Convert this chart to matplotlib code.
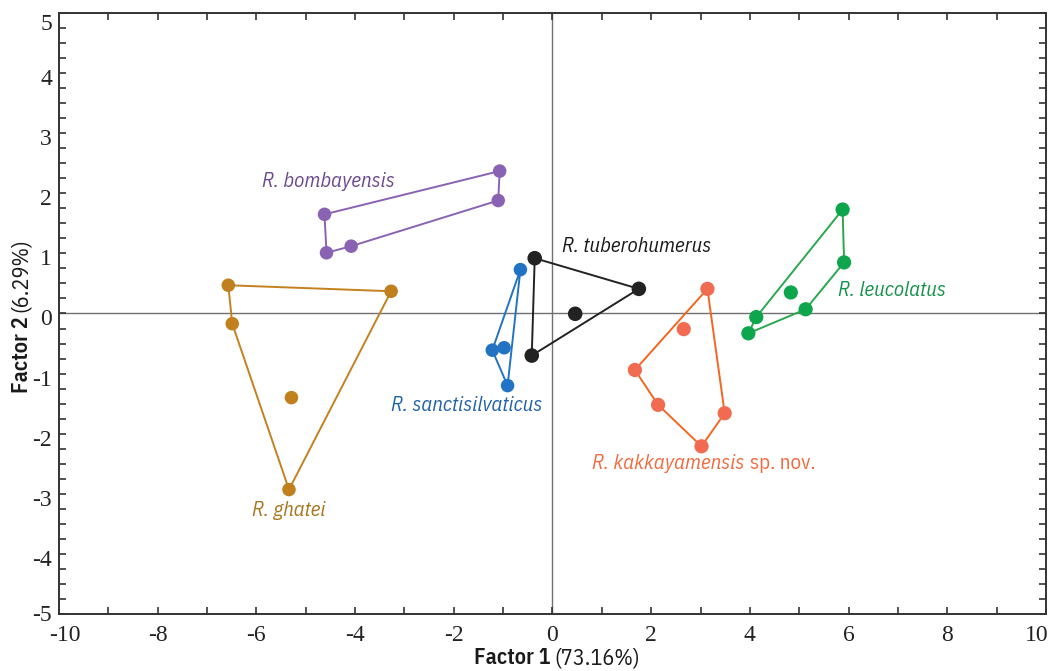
import numpy as np
import matplotlib
matplotlib.use("Agg")
import matplotlib.pyplot as plt
import matplotlib.transforms as mtransforms
from matplotlib.ticker import MultipleLocator

# ---- data ----
bomb_x = [-1.07, -1.10, -4.62, -4.08, -4.58]
bomb_y = [2.37, 1.88, 1.65, 1.12, 1.01]

ghat_x = [-6.57, -3.27, -6.49, -5.29, -5.34]
ghat_y = [0.47, 0.37, -0.17, -1.40, -2.93]

sanc_x = [-0.65, -1.22, -0.98, -0.91]
sanc_y = [0.73, -0.61, -0.57, -1.20]

tube_x = [-0.36, 1.75, 0.46, -0.42]
tube_y = [0.92, 0.41, -0.005, -0.70]

kakk_x = [3.14, 2.66, 1.67, 2.14, 3.49, 3.02]
kakk_y = [0.41, -0.26, -0.94, -1.52, -1.66, -2.21]

leuc_x = [5.88, 5.91, 4.83, 5.13, 4.13, 3.97]
leuc_y = [1.73, 0.85, 0.35, 0.07, -0.06, -0.33]

x_ticks = [-10, -8, -6, -4, -2, 0, 2, 4, 6, 8, 10]
y_ticks = [-5, -4, -3, -2, -1, 0, 1, 2, 3, 4, 5]

SANS = ["IBM Plex Sans Condensed", "DejaVu Sans"]
SERIF = ["Liberation Serif", "DejaVu Serif"]


def hull(xs, ys):
    pts = sorted(zip(xs, ys))

    def cross(o, a, b):
        return (a[0] - o[0]) * (b[1] - o[1]) - (a[1] - o[1]) * (b[0] - o[0])

    lower, upper = [], []
    for p in pts:
        while len(lower) >= 2 and cross(lower[-2], lower[-1], p) <= 0:
            lower.pop()
        lower.append(p)
    for p in reversed(pts):
        while len(upper) >= 2 and cross(upper[-2], upper[-1], p) <= 0:
            upper.pop()
        upper.append(p)
    h = lower[:-1] + upper[:-1]
    h.append(h[0])
    return [p[0] for p in h], [p[1] for p in h]


fig = plt.figure(figsize=(10.64, 6.71), dpi=100)
ax = fig.add_axes([0.0555, 0.085, 0.9275, 0.8956])
ax.set_xlim(-10, 10)
ax.set_ylim(-5, 5)

ax.axhline(0, color="#707070", lw=1.0, zorder=1)
ax.axvline(0, color="#707070", lw=1.0, zorder=1)

groups = [
    (bomb_x, bomb_y, "#8a62b3", "#8a62b3", 95),
    (ghat_x, ghat_y, "#c4811f", "#c0801e", 95),
    (sanc_x, sanc_y, "#2273c3", "#2273c3", 95),
    (tube_x, tube_y, "#222222", "#222222", 110),
    (kakk_x, kakk_y, "#f4661f", "#f06b50", 105),
    (leuc_x, leuc_y, "#2aa74f", "#0da64c", 105),
]
for xs, ys, lc, mc, ms in groups:
    hx, hy = hull(xs, ys)
    ax.plot(hx, hy, color=lc, lw=1.4, zorder=2)
    ax.scatter(xs, ys, s=ms, color=mc, zorder=3, edgecolors="none")

lab_font = dict(family=SANS, fontsize=15, style="italic")
ax.text(-5.88, 2.2, "R. bombayensis", color="#6b4a90", va="center", ha="left", **lab_font)
ax.text(0.2, 1.12, "R. tuberohumerus", color="#1a1a1a", va="center", ha="left", **lab_font)
ax.text(5.78, 0.38, "R. leucolatus", color="#16924a", va="center", ha="left", **lab_font)
ax.text(-1.74, -1.53, "R. sanctisilvaticus", color="#2262a8", va="center", ha="center", **lab_font)
ax.text(-5.35, -3.28, "R. ghatei", color="#a8741e", va="center", ha="center", **lab_font)
t = ax.text(0.81, -2.5, "R. kakkayamensis", color="#f06a3e", va="center", ha="left", **lab_font)
fig.canvas.draw()
renderer = fig.canvas.get_renderer()
bb = t.get_window_extent(renderer)
x_end = ax.transData.inverted().transform((bb.x1, bb.y0))[0]
ax.text(x_end + 0.1, -2.5, "sp. nov.", color="#f06a3e", va="center", ha="left",
        family=SANS, fontsize=15)

ax.set_xticks(x_ticks)
ax.set_yticks(y_ticks)
ax.set_xticklabels([str(v) for v in x_ticks])
ax.set_yticklabels([str(v) for v in y_ticks])
ax.xaxis.set_minor_locator(MultipleLocator(1))
ax.yaxis.set_minor_locator(MultipleLocator(0.25))
ax.tick_params(which="both", direction="in", top=True, right=True, length=5,
               width=1.2, color="#333333")
ax.tick_params(axis="x", which="major", pad=8)
ax.tick_params(axis="y", which="major", pad=5)
for lab in ax.get_xticklabels() + ax.get_yticklabels():
    lab.set_family(SERIF)
    lab.set_color("#222222")
    lab.set_fontsize(17)

# nudge tick labels like the reference (end labels pulled inward)
def px(dx, dy):
    return mtransforms.ScaledTranslation(dx / 100.0, dy / 100.0, fig.dpi_scale_trans)

xl = ax.get_xticklabels()
xl[0].set_transform(xl[0].get_transform() + px(6, 0))
xl[-1].set_transform(xl[-1].get_transform() + px(-9, 0))
yl = ax.get_yticklabels()
for i, lab in enumerate(yl):
    if i == 0:
        off = px(0, 1)
    elif i == len(yl) - 1:
        off = px(0, -9)
    else:
        off = px(0, -4)
    lab.set_transform(lab.get_transform() + off)

for sp in ax.spines.values():
    sp.set_linewidth(1.4)
    sp.set_color("#333333")

# axis titles: heavier part + regular part
W, H = fig.get_size_inches() * fig.dpi
def two_part(xc, yc, bold, reg, rot):
    a = fig.text(0, 0, bold, fontsize=16, family=SANS, weight="semibold", rotation=rot,
                 color="#1a1a1a")
    b = fig.text(0, 0, reg, fontsize=16, family=SANS, rotation=rot, color="#1a1a1a")
    fig.canvas.draw()
    ba = a.get_window_extent(renderer)
    bbx = b.get_window_extent(renderer)
    gap = 4
    if rot == 0:
        tot = ba.width + gap + bbx.width
        x0 = xc - tot / 2
        a.set_position((x0 / W, yc / H)); a.set_va("center"); a.set_ha("left")
        b.set_position(((x0 + ba.width + gap) / W, yc / H)); b.set_va("center"); b.set_ha("left")
    else:
        tot = ba.height + gap + bbx.height
        y0 = yc - tot / 2
        a.set_position((xc / W, y0 / H)); a.set_ha("center"); a.set_va("bottom")
        b.set_position((xc / W, (y0 + ba.height + gap) / H)); b.set_ha("center"); b.set_va("bottom")

two_part(557, 671 - 658, "Factor 1", "(73.16%)", 0)
two_part(21, 671 - 316, "Factor 2", "(6.29%)", 90)

fig.savefig("out.png", dpi=100)
